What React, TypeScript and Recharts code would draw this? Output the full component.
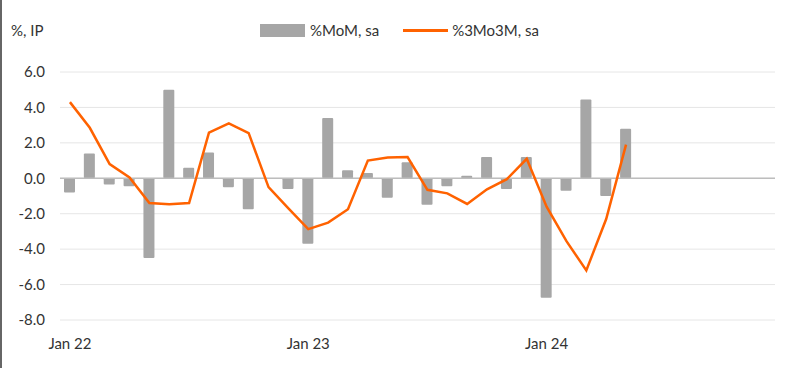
import React from "react";
import { Bar, ComposedChart, CartesianGrid, Line, ReferenceLine, XAxis, YAxis } from "recharts";

const months = [
  "Jan 22", "Feb 22", "Mar 22", "Apr 22", "May 22", "Jun 22", "Jul 22", "Aug 22", "Sep 22", "Oct 22", "Nov 22", "Dec 22",
  "Jan 23", "Feb 23", "Mar 23", "Apr 23", "May 23", "Jun 23", "Jul 23", "Aug 23", "Sep 23", "Oct 23", "Nov 23", "Dec 23",
  "Jan 24", "Feb 24", "Mar 24", "Apr 24", "May 24", "Jun 24", "Jul 24", "Aug 24", "Sep 24", "Oct 24", "Nov 24", "Dec 24",
];

// %MoM, sa
const mom = [
  -0.8, 1.4, -0.35, -0.45, -4.5, 5.0, 0.6, 1.45, -0.5, -1.75, 0.0, -0.6,
  -3.7, 3.4, 0.45, 0.3, -1.1, 0.9, -1.5, -0.45, 0.15, 1.2, -0.6, 1.2,
  -6.75, -0.7, 4.45, -1.0, 2.8,
];

// %3Mo3M, sa
const threeOnThree = [
  4.3, 2.85, 0.8, 0.05, -1.4, -1.47, -1.4, 2.58, 3.1, 2.55, -0.5, -1.7,
  -2.87, -2.5, -1.75, 1.0, 1.17, 1.2, -0.65, -0.85, -1.45, -0.62, -0.05, 1.1,
  -1.6, -3.55, -5.2, -2.3, 1.9,
];

const yTicks = [-8, -6, -4, -2, 0, 2, 4, 6];
const xTicks = ["Jan 22", "Jan 23", "Jan 24"];

const data = months.map((m, i) => ({
  month: m,
  mom: i < mom.length ? mom[i] : null,
  tmt: i < threeOnThree.length ? threeOnThree[i] : null,
}));

const FONT = "Lato, 'Open Sans', sans-serif";
const TEXT = "#333333";

function LegendBox() {
  return (
    <div
      style={{
        position: "absolute",
        left: 258,
        top: 21,
        display: "flex",
        alignItems: "center",
        fontFamily: FONT,
        fontSize: 15,
        color: TEXT,
      }}
    >
      <span style={{ width: 45, height: 13, background: "#a6a6a6", display: "inline-block", marginRight: 5 }} />
      <span style={{ marginRight: 24 }}>%MoM, sa</span>
      <span style={{ width: 45, height: 3, background: "#ff6200", display: "inline-block", marginRight: 4 }} />
      <span>%3Mo3M, sa</span>
    </div>
  );
}

export default function App() {
  return (
    <div
      style={{
        position: "absolute",
        left: 0,
        top: 0,
        width: 800,
        height: 368,
        background: "#fff",
        boxSizing: "border-box",
        borderLeft: "2px solid #666",
      }}
    >
      <div style={{ position: "absolute", left: 9, top: 21, fontFamily: FONT, fontSize: 15, color: TEXT }}>%, IP</div>
      <LegendBox />
      <div style={{ position: "absolute", left: -2, top: 0 }}>
        <ComposedChart width={800} height={368} data={data} margin={{ top: 72, right: 25, bottom: 18, left: 0 }}>
          <CartesianGrid vertical={false} stroke="#e6e6e6" />
          <XAxis
            dataKey="month"
            ticks={xTicks}
            interval={0}
            axisLine={false}
            tickLine={false}
            height={30}
            tickMargin={12}
            tick={{ fill: TEXT, fontSize: 15, fontFamily: FONT }}
          />
          <YAxis
            domain={[-8, 6]}
            ticks={yTicks}
            width={60}
            axisLine={false}
            tickLine={false}
            tickSize={0}
            tickMargin={15}
            tickFormatter={(v: number) => v.toFixed(1)}
            tick={{ fill: TEXT, fontSize: 15, fontFamily: FONT }}
          />
          <ReferenceLine y={0} stroke="#bdbdbd" strokeWidth={1.5} />
          <Bar dataKey="mom" name="%MoM, sa" fill="#a6a6a6" barSize={11} radius={1} isAnimationActive={false} />
          <Line
            dataKey="tmt"
            name="%3Mo3M, sa"
            type="linear"
            stroke="#ff6200"
            strokeWidth={2.5}
            dot={false}
            activeDot={false}
            connectNulls={false}
            isAnimationActive={false}
          />
        </ComposedChart>
      </div>
    </div>
  );
}
